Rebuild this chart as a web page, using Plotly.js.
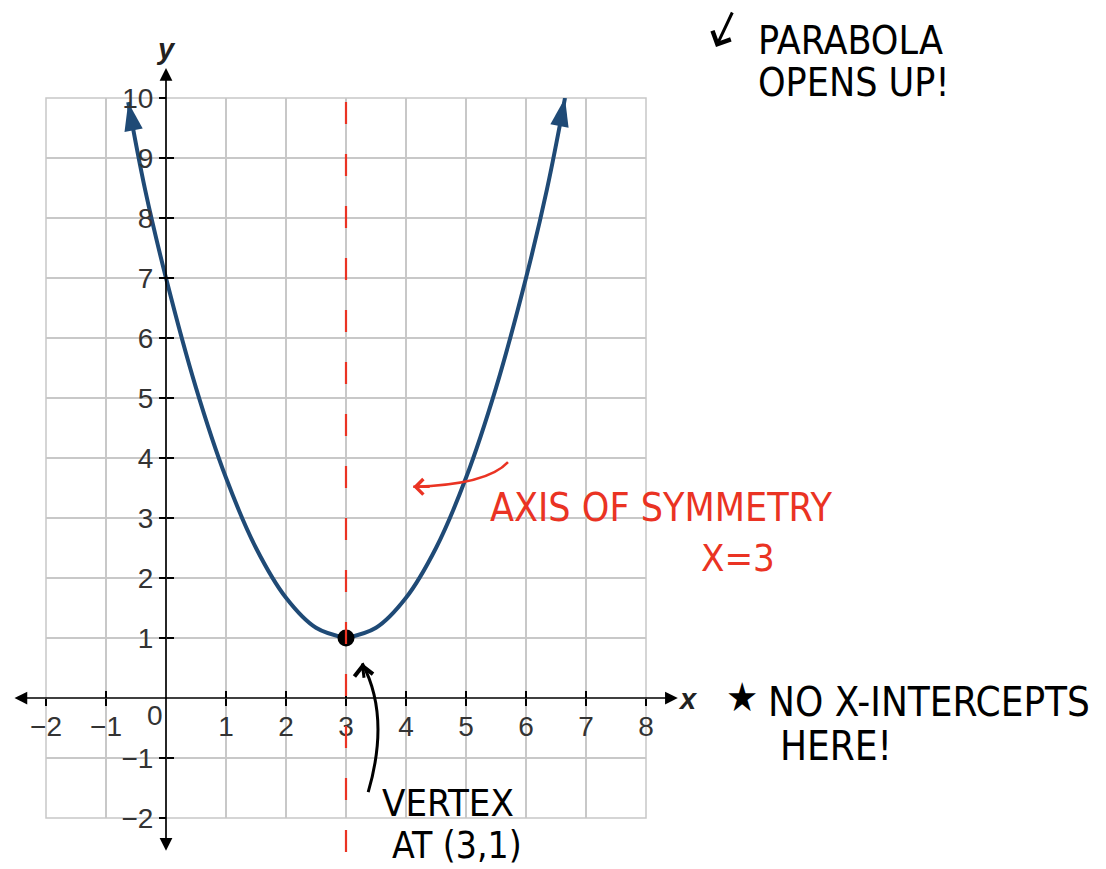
<!DOCTYPE html>
<html>
<head>
<meta charset="utf-8">
<script src="https://cdn.plot.ly/plotly-3.0.1.min.js"></script>
<style>
  html, body { margin: 0; padding: 0; background: #fff; }
  #chart { width: 1106px; height: 869px; }
</style>
</head>
<body>
<div id="chart"></div>
<script>
// parabola, two branches going out from the vertex
const leftX = [3, 2.5, 2, 1.5, 1, 0.5, 0, -0.35, -0.63];
const leftY = [1, 1.17, 1.67, 2.5, 3.67, 5.17, 7, 8.48, 9.93];
const rightX = [3, 3.5, 4, 4.5, 5, 5.5, 6, 6.35, 6.65];
const rightY = [1, 1.17, 1.67, 2.5, 3.67, 5.17, 7, 8.48, 10];
const vertexX = [3];
const vertexY = [1];
const symmetryX = 3;

const xRange = [-2, 8];
const yRange = [-2, 10];
const xTicks = [-2, -1, 1, 2, 3, 4, 5, 6, 7, 8];
const yTicks = [-2, -1, 1, 2, 3, 4, 5, 6, 7, 8, 9, 10];
// where the axis arrows stop, past the grid
const xAxisEnds = [-2.55, 8.53];
const yAxisEnds = [-2.57, 10.5];

const W = 1106, H = 869;
const M = {l: 46, r: 460, t: 98, b: 51};
const plotW = W - M.l - M.r;
const plotH = H - M.t - M.b;
const unitX = plotW / (xRange[1] - xRange[0]);
const unitY = plotH / (yRange[1] - yRange[0]);

// page pixel -> paper, used for the handwritten notes
const px = p => (p - M.l) / plotW;
const py = p => (H - M.b - p) / plotH;
const xFrac = v => (v - xRange[0]) / (xRange[1] - xRange[0]);
const yFrac = v => (v - yRange[0]) / (yRange[1] - yRange[0]);
const minus = t => String(t).replace('-', '\u2212');

const curveColor = '#1f4a76';
const red = '#ea3323';
const gridColor = '#c8c8c8';
const hand = '"DejaVu Sans Condensed", "Liberation Sans Narrow", "DejaVu Sans", sans-serif';
const tickFont = {family: '"Liberation Sans", Arial, sans-serif', size: 28, color: '#333'};

function branch(xs, ys) {
    return {
        x: xs,
        y: ys,
        type: 'scatter',
        mode: 'lines+markers',
        line: {color: curveColor, width: 4, shape: 'spline'},
        marker: {
            color: curveColor,
            opacity: 1,
            line: {width: 0},
            symbol: xs.map((_, i) => i === xs.length - 1 ? 'arrow' : 'circle'),
            size: xs.map((_, i) => i === xs.length - 1 ? 30 : 0),
            angleref: 'previous'
        },
        cliponaxis: false,
        hoverinfo: 'skip'
    };
}

const trace1 = branch(leftX, leftY);
const trace2 = branch(rightX, rightY);

const trace3 = {
    x: vertexX,
    y: vertexY,
    type: 'scatter',
    mode: 'markers',
    marker: {color: '#000', size: 17},
    cliponaxis: false,
    hoverinfo: 'skip'
};

// empty traces so the overlay axes (other half of the cross ticks) get drawn
const trace4 = {x: [], y: [], xaxis: 'x2', yaxis: 'y', type: 'scatter'};
const trace5 = {x: [], y: [], xaxis: 'x', yaxis: 'y2', type: 'scatter'};

function note(text, x, y, color, size, anchor) {
    return {
        xref: 'paper', yref: 'paper', x: px(x), y: py(y),
        text: text, showarrow: false,
        xanchor: anchor || 'left', yanchor: 'middle',
        font: {family: hand, size: size || 39, color: color}
    };
}

function label(text, x, y, font) {
    return {
        xref: 'paper', yref: 'paper', x: px(x), y: py(y),
        text: text, showarrow: false,
        xanchor: 'center', yanchor: 'middle', font: font
    };
}

const axisLabelFont = {family: tickFont.family, size: 29, color: '#222'};

const annotations = [
    // axes with arrows at both ends
    {
        xref: 'paper', yref: 'paper',
        x: xFrac(xAxisEnds[1]), y: yFrac(0),
        ax: -(xAxisEnds[1] - xAxisEnds[0]) * unitX, ay: 0,
        text: '', showarrow: true, arrowside: 'end+start',
        arrowhead: 2, startarrowhead: 2, arrowsize: 1.5, startarrowsize: 1.5,
        arrowwidth: 1.7, arrowcolor: '#000'
    },
    {
        xref: 'paper', yref: 'paper',
        x: xFrac(0), y: yFrac(yAxisEnds[1]),
        ax: 0, ay: (yAxisEnds[1] - yAxisEnds[0]) * unitY,
        text: '', showarrow: true, arrowside: 'end+start',
        arrowhead: 2, startarrowhead: 2, arrowsize: 1.5, startarrowsize: 1.5,
        arrowwidth: 1.7, arrowcolor: '#000'
    },
    label('<b><i>x</i></b>', 688, 699, axisLabelFont),
    label('<b><i>y</i></b>', 166, 49, axisLabelFont),
    label('0', 155, 715, tickFont),

    // handwritten notes
    {
        xref: 'paper', yref: 'paper', x: px(716), y: py(47), ax: 17, ay: -36,
        text: '', showarrow: true, arrowhead: 4, arrowsize: 1.3, arrowwidth: 3, arrowcolor: '#000'
    },
    note('PARABOLA', 756, 40, '#000'),
    note('OPENS UP!', 756, 82, '#000'),
    note('AXIS OF SYMMETRY', 488, 507, red),
    note('X=3', 699, 558, red, 38),
    note('\u2605', 742, 697, '#000', 40, 'center'),
    note('NO X-INTERCEPTS', 766, 702, '#000', 40),
    note('HERE!', 778, 746, '#000', 40),
    note('VERTEX', 380, 803, '#000', 38),
    note('AT (3,1)', 390, 845, '#000', 37),
    {
        xref: 'x', yref: 'y', x: 3.27, y: 0.58, ax: 2, ay: 16,
        text: '', showarrow: true, arrowhead: 4, arrowsize: 1.2, arrowwidth: 3, arrowcolor: '#000'
    },
    {
        xref: 'x', yref: 'y', x: 4.12, y: 3.52, ax: 18, ay: 0,
        text: '', showarrow: true, arrowhead: 4, arrowsize: 1.2, arrowwidth: 2.5, arrowcolor: red
    }
];

const shapes = [
    // outer edge of the grid
    {
        type: 'rect', xref: 'paper', yref: 'paper', x0: 0, x1: 1, y0: 0, y1: 1,
        line: {color: gridColor, width: 1.5}, layer: 'below'
    },
    {
        type: 'line', xref: 'paper', yref: 'paper',
        x0: xFrac(symmetryX), x1: xFrac(symmetryX), y0: py(852), y1: py(72),
        line: {color: red, width: 2.2, dash: '22px,30px'}
    },
    {
        type: 'path', xref: 'x', yref: 'y',
        path: 'M3.37,-1.57 Q3.74,-0.3 3.27,0.58',
        line: {color: '#000', width: 3}
    },
    {
        type: 'path', xref: 'x', yref: 'y',
        path: 'M5.7,3.93 Q5.35,3.55 4.12,3.52',
        line: {color: red, width: 2.5}
    }
];

const gridAxis = {
    showgrid: true,
    gridcolor: gridColor,
    gridwidth: 1.5,
    zeroline: false,
    showline: false,
    fixedrange: true
};

const layout = {
    width: W,
    height: H,
    margin: M,
    paper_bgcolor: '#fff',
    plot_bgcolor: '#fff',
    showlegend: false,
    xaxis: Object.assign({}, gridAxis, {
        range: xRange, anchor: 'free', position: yFrac(0),
        tickmode: 'array', tickvals: xTicks, ticktext: xTicks.map(minus),
        ticks: 'outside', ticklen: 7, tickwidth: 1.5, tickcolor: '#000',
        ticklabelstandoff: -4,
        tickfont: tickFont
    }),
    yaxis: Object.assign({}, gridAxis, {
        range: yRange, anchor: 'free', position: xFrac(0),
        tickmode: 'array', tickvals: yTicks, ticktext: yTicks.map(minus),
        ticks: 'outside', ticklen: 7, tickwidth: 1.5, tickcolor: '#000',
        tickfont: tickFont
    }),
    xaxis2: {
        range: xRange, overlaying: 'x', anchor: 'free', position: yFrac(0),
        tickmode: 'array', tickvals: xTicks, showticklabels: false,
        ticks: 'inside', ticklen: 7, tickwidth: 1.5, tickcolor: '#000',
        showgrid: false, zeroline: false, showline: false, fixedrange: true
    },
    yaxis2: {
        range: yRange, overlaying: 'y', anchor: 'free', position: xFrac(0),
        tickmode: 'array', tickvals: yTicks, showticklabels: false,
        ticks: 'inside', ticklen: 7, tickwidth: 1.5, tickcolor: '#000',
        showgrid: false, zeroline: false, showline: false, fixedrange: true
    },
    annotations: annotations,
    shapes: shapes,
    hovermode: false
};

Plotly.newPlot('chart', [trace1, trace2, trace3, trace4, trace5], layout, {displayModeBar: false, staticPlot: true});
</script>
</body>
</html>
